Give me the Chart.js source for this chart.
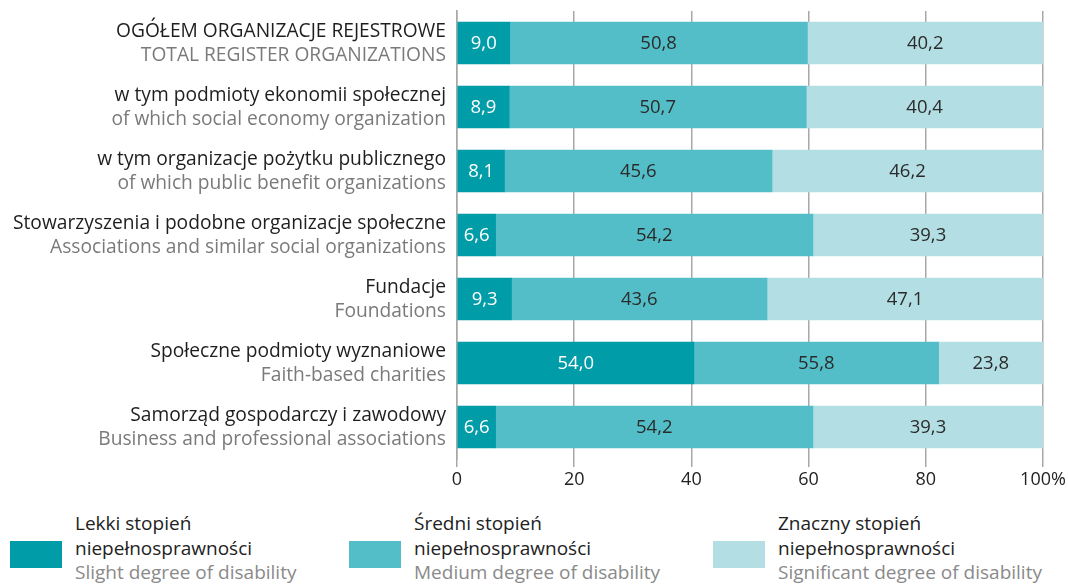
<!DOCTYPE html>
<html>
<head>
<meta charset="utf-8">
<script src="https://cdn.jsdelivr.net/npm/chart.js@4"></script>
<style>
  body { margin: 0; background: #fff; }
  #wrap { position: relative; width: 1068px; height: 586px; }
  #chart-box { position: absolute; left: 0; top: 0; width: 1068px; height: 500px; }
  .leg { position: absolute; font-family: "Open Sans", sans-serif; font-size: 19px; line-height: 24.5px; color: #222; }
  .leg .sw { position: absolute; left: 0; top: 30px; width: 52px; height: 27px; }
  .leg .txt { position: absolute; left: 65px; top: 0; white-space: nowrap; }
  .leg .en { color: #8a8a8a; }
</style>
</head>
<body>
<div id="wrap">
  <div id="chart-box"><canvas id="chart1"></canvas></div>
  <div id="legend"></div>
</div>
<script>
// categories: polish + english
const labelsPl = [
  "OGÓŁEM ORGANIZACJE REJESTROWE",
  "w tym podmioty ekonomii społecznej",
  "w tym organizacje pożytku publicznego",
  "Stowarzyszenia i podobne organizacje społeczne",
  "Fundacje",
  "Społeczne podmioty wyznaniowe",
  "Samorząd gospodarczy i zawodowy"
];
const labelsEn = [
  "TOTAL REGISTER ORGANIZATIONS",
  "of which social economy organization",
  "of which public benefit organizations",
  "Associations and similar social organizations",
  "Foundations",
  "Faith-based charities",
  "Business and professional associations"
];

// values as printed on the bars
const slight = [9.0, 8.9, 8.1, 6.6, 9.3, 54.0, 6.6];
const medium = [50.8, 50.7, 45.6, 54.2, 43.6, 55.8, 54.2];
const significant = [40.2, 40.4, 46.2, 39.3, 47.1, 23.8, 39.3];

const xTicks = [0, 20, 40, 60, 80, 100];

const seriesPl = ["Lekki stopień", "Średni stopień", "Znaczny stopień"];
const seriesEn = ["Slight degree of disability", "Medium degree of disability", "Significant degree of disability"];
const colors = ["#009ca7", "#53bec8", "#b3dfe4"];
const valueColors = ["#ffffff", "#2b2b2b", "#2b2b2b"];

// bars are drawn as share of row total (100%)
const raw = [slight, medium, significant];
const totals = slight.map((v, i) => v + medium[i] + significant[i]);

const datasets = raw.map((arr, k) => ({
  label: seriesPl[k],
  data: arr.map((v, i) => v / totals[i] * 100),
  rawValues: arr,
  backgroundColor: colors[k],
  borderWidth: 0,
  barThickness: 42
}));

const fontMain = "Open Sans";

// draws the two-line category labels left of the axis
const catLabels = {
  id: 'catLabels',
  afterDraw(chart) {
    const ctx = chart.ctx;
    const yScale = chart.scales.y;
    ctx.save();
    ctx.textAlign = 'right';
    ctx.textBaseline = 'middle';
    ctx.font = '19.2px "' + fontMain + '"';
    labelsPl.forEach((t, i) => {
      const y = yScale.getPixelForValue(i);
      ctx.fillStyle = '#1e1e1e';
      ctx.fillText(t, 446, y - 11);
      ctx.fillStyle = '#7a7a7a';
      ctx.fillText(labelsEn[i], 446, y + 13);
    });
    ctx.restore();
  }
};

// value labels in the middle of each segment
const valueLabels = {
  id: 'valueLabels',
  afterDatasetsDraw(chart) {
    const ctx = chart.ctx;
    ctx.save();
    ctx.textAlign = 'center';
    ctx.textBaseline = 'middle';
    ctx.font = '18.5px "' + fontMain + '"';
    chart.data.datasets.forEach((ds, k) => {
      const meta = chart.getDatasetMeta(k);
      meta.data.forEach((bar, i) => {
        const cx = (bar.x + bar.base) / 2;
        ctx.fillStyle = valueColors[k];
        ctx.fillText(ds.rawValues[i].toFixed(1).replace('.', ','), cx, bar.y + 1);
      });
    });
    ctx.restore();
  }
};

const myChart = new Chart(document.getElementById('chart1'), {
  type: 'bar',
  data: { labels: labelsPl, datasets },
  options: {
    indexAxis: 'y',
    responsive: true,
    maintainAspectRatio: false,
    animation: false,
    layout: { padding: { top: 11, right: 25, left: 0, bottom: 0 } },
    plugins: { legend: { display: false }, tooltip: { enabled: false } },
    scales: {
      x: {
        stacked: true,
        min: 0,
        max: 100,
        afterBuildTicks(scale) { scale.ticks = xTicks.map(v => ({ value: v })); },
        afterFit(scale) { scale.height = 41; },
        grid: { color: '#a8a8a8', lineWidth: 1.5, tickLength: 8, drawTicks: true },
        border: { display: false },
        ticks: {
          color: '#222',
          font: { family: fontMain, size: 18 },
          padding: 2,
          maxRotation: 0,
          callback: v => v === 100 ? '100%' : v
        }
      },
      y: {
        stacked: true,
        afterFit(scale) { scale.width = 457; },
        grid: { display: false },
        border: { display: true, color: '#a8a8a8', width: 1.5 },
        ticks: { display: false }
      }
    }
  },
  plugins: [catLabels, valueLabels]
});

// html legend
const legendX = [10, 349, 713];
const legendEl = document.getElementById('legend');
seriesPl.forEach((name, k) => {
  const d = document.createElement('div');
  d.className = 'leg';
  d.style.left = legendX[k] + 'px';
  d.style.top = '511px';
  d.innerHTML = '<div class="sw" style="background:' + colors[k] + '"></div>' +
    '<div class="txt">' + name + '<br>niepełnosprawności<br><span class="en">' + seriesEn[k] + '</span></div>';
  legendEl.appendChild(d);
});
</script>
</body>
</html>
